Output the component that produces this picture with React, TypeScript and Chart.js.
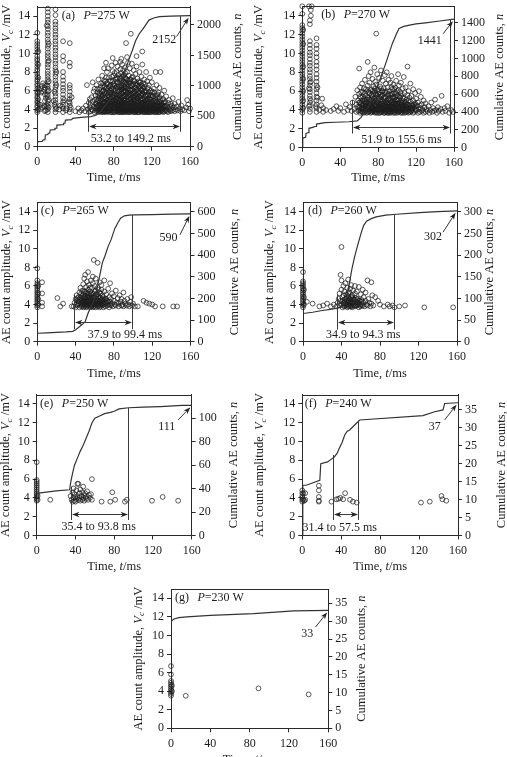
import { useEffect, useRef } from 'react';
import { Chart, registerables } from 'chart.js';

Chart.register(...registerables);

const SERIF = '"Liberation Serif", "Times New Roman", Times, serif';
const INK = '#1c1c1c';
const AXIS = '#2a2a2a';
const CURVE = '#333333';
const DOT = 'rgba(28,28,28,0.8)';

const TIME_TICKS = [0, 40, 80, 120, 160];
const AMP_TICKS = [0, 2, 4, 6, 8, 10, 12, 14];
const TIME_MAX = 160;
const AMP_MAX = 15;

// ---------- (a) P = 275 W ----------
const A_POWER = 275;
const A_TOTAL = 2152;
const A_RANGE = [53.2, 149.2];
const A_COUNT_TICKS = [0, 500, 1000, 1500, 2000];
const A_SCATTER = [
  0,3.7, 0,3.9, 0,4.2, 0,4.4, 0,4.7, 0,4.9, 0,5.2, 0,5.4, 0,5.7, 0,5.9, 0,6.2, 0,6.5, 0,6.7, 0,7.0, 0,7.2, 0,7.5, 0,7.8, 0,8.1, 0,8.3, 0,8.6,
  0,8.9, 0,9.2, 0,9.4, 0,9.7, 0,10.1, 0,10.4, 0,10.7, 0,11.0, 0,11.3, 0,12.2, 1,4.0, 1,4.6, 1,5.1, 1,5.8, 1,6.3, 1,7.4, 1,8.8, 1,10.2,
  3,4.0, 3,4.5, 4,5.8, 4,6.2, 5,6.5, 5,4.2, 6,5.9, 6,6.8, 7,4.4, 7,6.1, 8,3.8, 8,4.3, 8,4.9, 8,5.6, 8,6.3, 8,6.6, 9,5.2, 9,3.9,
  11,3.7, 11,4.0, 11,4.3, 11,4.6, 11,4.9, 11,5.3, 11,5.6, 11,5.9, 11,6.2, 11,6.5, 11,6.9, 11,7.2, 11,7.5, 11,7.8, 11,8.1, 11,8.5, 11,8.8,
  11,9.1, 11,9.5, 11,9.8, 11,10.1, 11,10.5, 11,10.8, 11,11.2, 11,11.5, 11,11.9, 11,12.2, 11,12.6, 11,12.9, 11,13.3, 11,13.6, 11,14.0,
  11,14.4, 11,14.8, 12,4.2, 12,5.0, 12,6.0, 12,7.0, 12,9.2, 12,11.0, 10,4.4, 10,5.5, 10,6.6, 10,13.0,
  19,3.7, 19,4.0, 19,4.3, 19,4.7, 19,5.0, 19,5.4, 19,5.7, 19,6.1, 19,6.4, 19,6.8, 19,7.1, 19,7.5, 19,7.8, 19,8.2, 19,8.5, 19,8.9, 19,9.2,
  19,9.6, 19,9.9, 19,10.3, 19,10.6, 19,11.0, 19,11.3, 19,11.7, 19,12.0, 19,12.4, 19,12.7, 19,13.1, 19,13.4, 19,14.1, 19,14.7,
  18,4.5, 18,5.9, 20,4.1, 20,6.6, 20,8.0, 17,4.9,
  27,3.7, 27,4.1, 27,4.5, 27,4.8, 27,5.2, 27,5.6, 27,6.0, 27,6.3, 27,6.7, 27,7.1, 27,7.5, 27,8.0, 27,9.2, 27,9.7, 27,11.3, 26,4.3, 28,5.0, 24,4.4, 23,4.0,
  34,3.7, 34,4.0, 34,4.4, 34,4.7, 34,5.1, 34,5.5, 34,5.9, 34,6.3, 34,6.6, 34,8.6, 34,9.0, 34,11.1, 35,4.2, 33,4.8, 31,4.1, 30,3.9, 36,5.3, 40,3.8, 43,4.1, 44,3.7,
  46,3.9, 48,4.1, 50,3.8, 51,4.4, 52,6.6, 53,4.0, 54,4.7, 54,3.7, 55,5.1, 55,4.2,
  56,3.8, 56,4.5, 57,5.3, 57,4.0, 58,3.9, 58,4.8, 59,5.9, 59,4.3, 60,3.7, 60,5.0, 60,6.2, 58,6.9,
  61,4.1, 61,4.6, 61,5.5, 62,3.8, 62,4.3, 62,6.6, 63,4.9, 63,3.9, 63,5.8, 64,4.4, 64,3.7, 64,7.2, 65,5.2, 65,4.0, 65,4.7, 65,6.1,
  66,3.8, 66,4.5, 66,5.6, 67,4.2, 67,5.0, 67,6.8, 67,3.7, 68,4.6, 68,5.4, 68,7.6, 68,3.9, 69,4.3, 69,6.0, 69,5.1, 70,3.8, 70,4.8, 70,6.4, 70,8.4, 70,4.1, 69,3.7,
  71,4.4, 71,5.3, 71,7.0, 71,3.9, 72,4.0, 72,5.7, 72,4.7, 72,6.2, 73,3.8, 73,4.5, 73,5.0, 73,8.0, 73,6.8, 74,4.2, 74,5.5, 74,3.7, 74,6.0, 75,4.9, 75,4.1, 75,7.4,
  75,5.3, 75,3.8, 74,8.4, 72,9.0,
  76,4.3, 76,5.8, 76,3.9, 76,6.5, 77,4.6, 77,5.1, 77,3.7, 77,7.1, 78,4.0, 78,4.8, 78,6.2, 78,5.4, 79,3.8, 79,4.4, 79,5.7, 79,8.1, 79,9.5, 80,4.2, 80,5.0, 80,6.7,
  80,3.9, 80,7.6, 78,8.7, 77,6.0,
  81,4.5, 81,5.3, 81,3.7, 81,6.0, 82,4.1, 82,4.8, 82,7.2, 82,5.6, 82,9.0, 83,3.9, 83,4.4, 83,6.4, 83,5.1, 83,8.0, 84,4.0, 84,4.7, 84,5.9, 84,3.7, 84,6.9, 85,4.3,
  85,5.2, 85,7.7, 85,3.8, 85,6.2, 85,4.9, 84,8.6, 83,7.4,
  86,4.1, 86,4.6, 86,5.5, 86,6.8, 86,3.9, 87,4.4, 87,5.0, 87,7.3, 87,3.7, 87,6.0, 87,8.3, 88,4.2, 88,4.8, 88,5.7, 88,6.5, 88,3.8, 88,7.9, 89,4.0, 89,4.5, 89,5.3,
  89,6.2, 89,8.8, 89,3.7, 90,4.3, 90,5.0, 90,5.9, 90,7.0, 90,3.9, 90,8.2, 90,6.6, 89,7.5, 88,9.4, 87,9.1,
  91,4.1, 91,4.7, 91,5.4, 91,6.4, 91,3.8, 91,7.7, 92,4.4, 92,5.1, 92,6.0, 92,3.7, 92,8.5, 92,6.9, 93,4.0, 93,4.6, 93,5.6, 93,7.3, 93,3.9, 93,11.1, 93,6.3, 94,4.2,
  94,4.9, 94,5.3, 94,6.7, 94,3.7, 94,8.0, 95,4.5, 95,5.8, 95,3.8, 95,7.1, 95,4.1, 95,9.0, 94,9.6, 92,7.9,
  96,4.3, 96,5.0, 96,6.2, 96,3.9, 96,7.6, 97,4.0, 97,4.7, 97,5.5, 97,6.8, 97,3.7, 97,8.4, 98,4.4, 98,5.2, 98,6.0, 98,3.8, 98,7.2, 98,12.1, 99,4.1, 99,4.8, 99,5.7,
  99,6.5, 99,3.9, 99,8.9, 100,4.2, 100,5.0, 100,6.1, 100,3.7, 100,7.5, 100,5.4,
  101,4.0, 101,4.6, 101,5.3, 101,6.7, 101,3.8, 101,8.2, 102,4.3, 102,5.0, 102,5.9, 102,7.0, 102,3.7, 103,4.1, 103,4.8, 103,5.5, 103,6.3, 103,3.9, 103,7.8, 104,4.4,
  104,5.2, 104,6.6, 104,3.8, 104,9.7, 104,8.6, 105,4.0, 105,4.7, 105,5.6, 105,7.3, 105,3.7, 105,6.1,
  106,4.2, 106,4.9, 106,5.8, 106,3.9, 106,7.0, 107,4.5, 107,5.3, 107,6.4, 107,3.7, 107,8.0, 108,4.1, 108,4.7, 108,5.5, 108,6.9, 108,3.8, 109,4.3, 109,5.0, 109,6.1,
  109,3.9, 109,7.5, 110,4.0, 110,4.6, 110,5.7, 110,3.7, 110,10.2, 110,6.5, 110,8.8,
  111,4.4, 111,5.1, 111,6.2, 111,3.8, 112,4.2, 112,4.8, 112,5.9, 112,3.9, 112,7.2, 113,4.0, 113,4.5, 113,5.4, 113,6.7, 113,3.7, 114,4.3, 114,5.0, 114,6.0, 114,3.8,
  114,8.0, 115,4.1, 115,4.7, 115,5.6, 115,3.9, 115,7.0,
  116,4.2, 116,4.9, 116,6.3, 116,3.7, 117,4.4, 117,5.2, 117,3.8, 117,6.6, 118,4.0, 118,4.6, 118,5.5, 118,3.9, 118,7.4, 119,4.3, 119,5.0, 119,6.0, 119,3.7, 120,4.1,
  120,4.8, 120,5.8, 120,3.8, 120,6.9,
  121,4.2, 121,4.7, 121,5.4, 121,3.9, 122,4.0, 122,4.5, 122,6.2, 122,3.7, 123,4.4, 123,5.1, 123,3.8, 123,5.8, 124,4.1, 124,4.9, 124,8.0, 124,3.9, 125,4.3, 125,5.5,
  125,3.7, 125,6.6,
  126,4.0, 126,4.6, 126,5.2, 126,3.8, 127,4.3, 127,5.8, 127,3.9, 128,4.1, 128,4.8, 128,3.7, 128,6.3, 129,4.4, 129,5.0, 129,8.0, 129,3.8, 130,4.2, 130,4.7, 130,5.6,
  130,3.9,
  131,4.0, 131,4.5, 132,5.1, 132,3.7, 133,4.3, 133,6.0, 134,4.1, 134,3.9, 134,4.8, 135,4.4, 135,5.4, 136,3.8, 136,4.2, 137,4.7, 137,3.7, 138,4.0, 138,5.0, 139,4.3,
  139,3.9, 140,4.1, 140,4.6, 140,3.8,
  141,4.4, 142,3.9, 142,5.2, 143,4.2, 144,3.8, 144,4.6, 145,4.0, 146,4.3, 147,3.9, 148,4.8, 149,4.1, 150,3.8, 151,4.4, 152,4.0, 154,3.9, 156,4.2, 158,4.5, 159,3.8,
  160,4.1, 157,5.0,
  // dense core of the burst
  62,4.6, 62,5.1, 63,4.2, 63,4.4, 63,6.2, 64,4.0, 64,5.0, 64,5.5, 65,3.8, 65,4.4, 65,5.7, 66,4.1, 66,4.9, 66,6.3, 67,3.9, 67,4.4, 67,5.4, 68,4.1, 68,4.3, 68,5.9,
  68,6.5, 69,3.8, 69,4.7, 69,5.6, 69,6.8, 70,4.3, 70,5.2, 70,5.7, 70,7.1,
  71,3.7, 71,4.1, 71,4.8, 71,5.9, 71,6.5, 72,3.8, 72,4.4, 72,5.1, 72,7.4, 73,4.1, 73,4.7, 73,5.8, 73,6.3, 74,3.9, 74,4.6, 74,5.0, 74,6.7, 75,4.4, 75,5.8, 75,6.4,
  76,4.1, 76,4.7, 76,5.2, 76,7.0, 77,3.9, 77,4.3, 77,5.6, 77,6.6, 78,3.7, 78,4.4, 78,5.0, 78,5.8, 78,7.5, 79,4.2, 79,4.8, 79,5.3, 79,6.4, 79,7.0, 80,3.7, 80,4.6,
  80,5.5, 80,6.1,
  81,4.2, 81,4.9, 81,5.7, 81,6.6, 81,7.9, 82,3.8, 82,4.5, 82,5.2, 82,6.3, 83,4.1, 83,4.7, 83,5.5, 83,6.9, 84,3.9, 84,4.4, 84,5.3, 84,6.4, 84,7.3, 85,4.0, 85,4.6,
  85,5.6, 85,6.6, 86,3.7, 86,4.3, 86,5.0, 86,5.9, 86,7.4, 87,4.0, 87,4.7, 87,5.4, 87,6.4, 88,3.9, 88,4.5, 88,5.2, 88,6.1, 88,7.1, 89,4.2, 89,4.8, 89,5.7, 89,6.8,
  90,3.7, 90,4.6, 90,5.4, 90,6.2, 90,7.6,
  91,3.9, 91,4.4, 91,5.0, 91,5.9, 91,6.9, 92,4.0, 92,4.7, 92,5.5, 92,6.4, 92,7.4, 93,4.3, 93,5.0, 93,5.9, 93,6.8, 94,3.8, 94,4.5, 94,5.7, 94,6.2, 94,7.2, 95,4.0,
  95,4.8, 95,5.4, 95,6.5, 96,3.7, 96,4.6, 96,5.6, 96,6.9, 97,4.2, 97,5.1, 97,6.1, 97,7.2, 98,3.9, 98,4.7, 98,5.6, 98,6.6, 99,4.4, 99,5.2, 99,6.1, 99,7.4, 100,3.9,
  100,4.6, 100,5.7, 100,6.7,
  101,4.3, 101,5.0, 101,5.8, 101,7.1, 102,3.9, 102,4.6, 102,5.4, 102,6.3, 103,3.7, 103,4.4, 103,5.1, 103,6.8, 104,4.1, 104,4.7, 104,5.6, 104,6.1, 105,3.9, 105,4.4,
  105,5.2, 105,6.7, 106,3.7, 106,4.5, 106,5.4, 106,6.4, 107,4.1, 107,4.8, 107,5.8, 107,6.9, 108,3.9, 108,4.4, 108,5.1, 108,6.2, 109,4.1, 109,4.7, 109,5.5, 109,6.6,
  110,3.9, 110,4.3, 110,5.1, 110,6.0,
  111,4.0, 111,4.7, 111,5.6, 111,6.8, 112,3.7, 112,4.5, 112,5.3, 112,6.4, 113,4.2, 113,4.9, 113,5.9, 114,3.9, 114,4.6, 114,5.5, 115,3.7, 115,4.4, 115,5.1, 115,6.2,
  116,4.0, 116,4.6, 116,5.5, 117,4.1, 117,4.8, 117,5.8, 118,3.7, 118,4.3, 118,5.1, 119,4.1, 119,4.6, 119,5.5, 120,4.0, 120,4.4, 120,5.3, 121,3.8, 121,4.4, 121,5.9,
  122,4.2, 122,4.9, 123,4.0, 123,4.7, 124,3.7, 124,4.4, 124,5.3, 125,4.0, 125,4.8,
  126,4.3, 126,5.6, 127,3.7, 127,4.6, 128,4.4, 128,5.3, 129,4.0, 129,4.7, 130,4.4, 131,3.8, 131,5.0, 132,4.2, 133,3.8, 133,4.7, 134,4.4, 135,3.9,
];
const A_CUMUL = [
  0,82, 5,85, 6,110, 8,115, 8.5,192, 11,200, 11.5,220, 13,225, 13.5,274, 18,280, 18.5,302, 20,306, 20.5,356, 27,362, 27.5,384, 29,390, 29.5,438,
  36,445, 37,466, 46,483, 56,495, 62,520, 66,580, 70,650, 75,740, 79,830, 84,960, 89,1100, 93,1300, 96,1430, 100,1600, 103,1740, 107,1860,
  110,1920, 114,2010, 117,2080, 122,2115, 128,2136, 140,2145, 150,2150, 160,2152,
];

// ---------- (b) P = 270 W ----------
const B_POWER = 270;
const B_TOTAL = 1441;
const B_RANGE = [51.9, 155.6];
const B_COUNT_TICKS = [0, 200, 400, 600, 800, 1000, 1200, 1400];
const B_SCATTER = [
  0,3.7, 0,4.0, 0,4.3, 0,4.6, 0,4.9, 0,5.2, 0,5.5, 0,5.8, 0,6.1, 0,6.4, 0,6.7, 0,7.0, 0,7.3, 0,7.6, 0,7.9, 0,8.2, 0,8.5, 0,8.8, 0,9.1, 0,9.4,
  0,9.7, 0,10.0, 0,10.3, 0,10.6, 0,10.9, 0,11.2, 0,11.5, 0,11.8, 0,12.1, 0,12.4, 0,12.7, 0,13.0, 0,14.2, 0,15.0, 1,4.2, 1,5.0, 1,6.0, 1,7.3, 1,8.6,
  1,11.0, 1,12.5,
  8,3.8, 8,4.1, 8,4.5, 8,4.8, 8,5.2, 8,5.5, 8,5.9, 8,6.2, 8,6.6, 8,6.9, 8,7.3, 8,7.6, 8,8.0, 8,8.3, 8,8.7, 8,9.0, 8,9.4, 8,9.8, 8,10.1, 8,10.5, 8,10.9,
  8,11.3, 8,13.1, 8,13.5, 7,4.4, 7,6.3, 9,5.0, 9,14.0, 9,14.6, 7,15.0, 10,15.0, 9,7.0,
  15,3.8, 15,4.2, 15,4.6, 15,5.0, 15,5.4, 15,5.8, 15,6.2, 15,6.6, 15,7.0, 15,7.4, 15,7.8, 15,8.3, 15,8.7, 15,9.1, 15,9.6, 15,10.0, 15,10.5, 15,10.9,
  15,11.6, 14,4.4, 16,5.3, 16,6.4,
  18,4.0, 20,4.5, 21,5.2, 22,4.2, 22,3.8, 25,4.0, 30,3.9, 33,4.1, 36,4.4, 38,3.9, 40,4.2, 44,3.8, 46,4.6, 48,4.0, 50,4.3, 52,3.9, 53,4.8,
  55,4.1, 56,5.4, 57,3.8, 57,4.6, 58,6.1, 58,4.3, 59,3.9, 59,5.0, 60,4.4, 60,5.7, 60,8.4, 61,3.7, 61,4.8, 61,6.4, 62,4.1, 62,5.3, 62,3.9, 63,4.5, 63,6.8, 63,5.0,
  64,3.8, 64,4.2, 64,5.9, 65,4.7, 65,3.7, 65,6.3, 65,5.2, 66,4.0, 66,4.4, 66,7.2, 67,3.9, 67,5.5, 67,4.8, 68,4.2, 68,6.0, 68,3.7, 68,5.1, 69,4.5, 69,9.1, 69,3.8,
  69,6.6, 70,4.1, 70,5.3, 70,4.7, 70,7.6, 71,3.9, 71,5.8, 71,4.3, 71,6.9, 72,4.6, 72,3.7, 72,5.0, 72,8.0, 73,4.0, 73,5.6, 73,4.4, 73,6.2, 74,3.8, 74,4.9, 74,7.3,
  74,5.4, 75,4.2, 75,6.5, 75,3.9, 75,4.7, 76,5.2, 76,4.0, 76,8.5, 76,6.0, 77,3.7, 77,4.5, 77,5.7, 77,7.0, 78,12.1, 78,4.3, 78,5.0, 78,6.7, 78,3.8, 79,4.1, 79,5.5,
  79,7.8, 79,4.8, 80,3.9, 80,4.4, 80,6.2, 80,5.2, 81,4.6, 81,3.7, 81,5.9, 81,7.4, 82,4.2, 82,5.0, 82,4.0, 82,6.5, 83,3.8, 83,4.7, 83,5.4, 83,8.2, 84,4.3, 84,6.0,
  84,3.9, 84,5.1, 85,4.5, 85,7.1, 85,4.0, 85,5.6, 86,3.7, 86,4.8, 86,6.3, 86,4.2, 87,5.3, 87,3.9, 87,4.6, 87,7.7, 88,4.1, 88,5.8, 88,3.8, 88,6.8, 89,4.4, 89,5.0,
  89,4.0, 89,8.0, 90,3.7, 90,4.7, 90,5.5, 90,6.4, 91,4.3, 91,3.9, 91,5.2, 91,7.2, 92,4.6, 92,4.1, 92,6.0, 92,3.8, 93,5.0, 93,4.4, 93,6.9, 93,3.7, 94,4.2, 94,5.7,
  94,4.8, 94,7.6, 95,3.9, 95,4.5, 95,6.2, 95,5.3, 96,4.0, 96,3.7, 96,5.0, 96,6.7, 97,4.3, 97,5.8, 97,3.8, 97,4.7, 98,4.1, 98,6.4, 98,5.4, 98,3.9, 99,4.6, 99,7.1,
  99,4.0, 99,5.1, 100,3.7, 100,4.4, 100,6.0, 100,5.5, 101,4.2, 101,3.8, 101,5.0, 101,7.8, 102,4.7, 102,4.0, 102,6.6, 103,3.9, 103,5.3, 103,4.3, 103,5.9, 104,4.5,
  104,3.7, 104,6.9, 105,4.1, 105,5.0, 105,3.8, 105,5.7, 106,4.4, 106,6.3, 106,4.0, 107,3.9, 107,5.2, 107,4.6, 107,7.5, 108,4.2, 108,3.7, 108,5.8, 109,4.8, 109,4.0,
  109,6.4, 110,3.8, 110,5.1, 110,4.3, 111,4.6, 111,3.9, 111,8.6, 111,5.6, 112,4.1, 112,6.0, 112,3.7, 113,4.4, 113,5.3, 113,4.0, 114,3.8, 114,4.9, 114,6.8, 115,4.2,
  115,5.5, 115,3.9, 116,4.5, 116,4.0, 117,5.0, 117,3.7, 117,6.2, 118,4.3, 118,3.8, 119,4.7, 119,5.8, 120,4.0, 120,3.9, 120,5.2, 121,4.4, 122,3.7, 122,4.8, 123,4.1,
  123,6.0, 124,3.8, 124,4.5, 125,4.2, 125,5.4, 126,3.9, 126,4.6, 127,4.0, 128,3.7, 128,5.0, 129,4.3, 130,3.8, 130,4.7, 131,4.1, 132,3.9, 133,4.4, 134,3.7, 135,4.0,
  136,4.8, 137,3.8, 138,4.2, 139,3.9, 140,5.1, 141,4.0, 142,3.7, 143,4.3, 144,3.9, 146,4.1, 147,5.5, 148,3.8, 150,4.2, 151,3.9, 153,4.4, 155,3.7, 157,4.0, 159,3.8,
  // dense core of the burst
  60,4.0, 60,4.8, 61,4.3, 61,5.4, 62,4.7, 62,5.9, 63,3.8, 63,4.2, 64,4.5, 64,5.4, 65,4.1, 65,4.9, 66,3.8, 66,5.1, 66,5.8, 67,4.3, 67,4.6, 67,6.2, 68,4.5, 68,4.8,
  69,4.1, 69,5.3, 70,3.8, 70,4.4, 70,5.9, 71,4.6, 71,5.1, 72,4.1, 72,4.3, 72,6.1, 73,3.8, 73,4.7, 73,5.2, 74,4.3, 74,4.6, 74,6.0, 75,4.0, 75,5.0, 75,5.7, 76,3.8,
  76,4.4, 76,4.8, 77,4.1, 77,5.3, 77,6.3, 78,4.0, 78,4.6, 78,5.6, 79,3.7, 79,4.4, 79,6.1, 80,4.1, 80,4.7, 80,5.7, 81,4.0, 81,4.4, 81,5.3, 82,3.7, 82,4.6, 82,5.6,
  83,4.1, 83,4.4, 83,6.3, 84,3.8, 84,4.7, 84,5.5, 85,4.2, 85,4.9, 85,6.0, 86,4.0, 86,4.5, 86,5.3, 87,3.7, 87,4.3, 87,5.9, 88,4.4, 88,4.8, 88,5.3, 89,3.8, 89,4.7,
  89,6.0, 90,4.1, 90,4.3, 90,5.1, 91,3.7, 91,4.7, 91,5.7, 92,3.9, 92,4.4, 92,5.3, 93,4.1, 93,4.7, 93,5.6, 94,3.8, 94,4.4, 94,6.4, 95,4.1, 95,4.8, 95,5.7, 96,4.3,
  96,4.6, 96,5.4, 97,4.0, 97,5.2, 97,6.2, 98,3.7, 98,4.6, 98,4.9, 99,4.2, 99,4.4, 99,5.8, 100,3.9, 100,4.7, 100,5.1, 101,4.5, 101,4.7, 101,6.1, 102,3.8, 102,4.3,
  102,5.4, 103,4.1, 103,4.7, 104,4.0, 104,4.8, 104,5.5, 105,4.3, 105,4.6, 106,3.7, 106,4.8, 106,5.3, 107,4.1, 107,4.3, 108,4.5, 108,4.9, 109,3.8, 109,4.4, 110,4.1,
  110,4.6, 111,4.3, 112,4.5, 112,5.0, 113,3.8, 114,4.2, 115,4.6, 116,4.2, 117,4.4, 118,4.6, 119,4.1, 120,4.5,
];
const B_CUMUL = [
  0,11, 0.5,108, 3.5,116, 4,160, 6.5,170, 7,217, 12,230, 12.5,235, 14.5,240, 15,265, 24,280, 35,285, 49,291, 58,300, 62,340, 66,410, 70,459, 74,560,
  77.5,646, 83,795, 88,945, 95,1169, 99,1270, 102,1337, 107,1360, 113,1374, 120,1388, 130,1400, 145,1420, 160,1441,
];

// ---------- (c) P = 265 W ----------
const C_POWER = 265;
const C_TOTAL = 590;
const C_RANGE = [37.9, 99.4];
const C_COUNT_TICKS = [0, 100, 200, 300, 400, 500, 600];
const C_SCATTER = [
  0,3.7, 0,3.9, 0,4.1, 0,4.3, 0,4.5, 0,4.7, 0,4.9, 0,5.1, 0,5.3, 0,5.5, 0,5.7, 0,5.9, 0,6.1, 0,6.3, 0,6.6, 0,7.9, 1,4.0, 1,4.6, 1,5.2, 1,6.0,
  5,6.4, 5,5.2, 5,4.2, 5,3.8, 21,4.7, 24,3.8, 27,4.1, 36,3.8,
  38,3.8, 39,4.2, 40,4.6, 40,3.7, 41,4.0, 41,5.0, 42,4.4, 42,3.9, 43,4.8, 43,4.1, 44,3.7, 44,5.3, 45,4.3, 45,4.0, 45,5.8, 46,3.8, 46,4.6, 46,4.9, 47,4.2, 47,5.5,
  47,3.9, 48,4.4, 48,6.2, 48,3.7, 48,5.1, 49,4.0, 49,4.7, 49,6.8, 49,3.8, 50,4.3, 50,5.4, 50,4.9, 50,3.9, 50,7.2, 51,4.1, 51,5.9, 51,3.7, 51,4.6, 52,4.4, 52,5.2,
  52,6.5, 52,3.8, 53,4.0, 53,4.8, 53,7.5, 53,5.6, 54,3.9, 54,4.3, 54,6.1, 54,5.0, 55,4.6, 55,3.7, 55,5.4, 55,4.1, 56,4.4, 56,6.6, 56,3.8, 56,5.1, 57,4.0, 57,4.8,
  57,5.8, 57,3.9, 58,4.2, 58,6.3, 58,3.7, 58,7.0, 59,4.5, 59,5.2, 59,8.8, 59,3.8, 60,4.1, 60,4.7, 60,6.0, 60,3.9, 61,4.3, 61,5.5, 61,3.7, 61,6.8, 62,4.6, 62,4.0,
  62,5.1, 63,3.8, 63,8.5, 63,4.4, 63,5.8, 64,4.1, 64,4.9, 64,3.9, 65,4.3, 65,6.4, 65,3.7, 65,5.3, 66,4.0, 66,4.7, 66,3.8, 67,4.5, 67,5.6, 67,6.1, 68,4.2, 68,3.9,
  68,5.0, 69,4.4, 69,3.7, 69,4.8, 70,4.0, 70,6.6, 70,5.4, 71,3.8, 71,4.6, 72,4.2, 72,5.1, 73,3.9, 73,4.4, 74,4.0, 74,5.7, 75,4.8, 75,3.7, 76,4.3, 76,6.3, 77,3.9,
  77,4.6, 78,4.1, 78,5.2, 79,3.8, 80,4.4, 80,4.9, 81,4.0, 82,5.5, 82,3.9, 83,4.2, 84,4.7, 85,3.8, 85,4.1, 86,5.0, 87,4.3, 88,3.9, 88,4.6, 89,4.0, 90,5.3, 90,3.8,
  91,4.4, 92,4.1, 93,3.9, 94,4.6, 95,4.0, 96,3.8, 97,4.3, 98,4.8, 99,3.9, 100,4.1, 102,3.8,
  105,3.8, 111,4.4, 114,4.2, 117,4.1, 120,4.0, 123,3.8, 131,3.8, 142,3.8, 146,3.8,
  42,4.7, 43,4.3, 44,4.5, 45,4.7, 46,4.2, 46,5.2, 47,4.5, 48,4.0, 48,4.8, 49,4.3, 49,5.4, 50,4.1, 50,4.6, 51,4.3, 51,5.3, 52,4.0, 52,4.8, 53,4.3, 53,5.2, 54,4.6,
  54,4.8, 55,4.3, 55,5.8, 56,4.0, 56,4.7, 57,4.4, 57,5.2, 58,4.0, 58,4.7, 59,4.2, 59,4.9, 60,4.4, 60,5.4, 61,4.0, 61,4.9, 62,4.3, 62,4.8, 63,4.1, 63,5.1, 64,4.4,
  64,5.6, 65,4.1, 66,4.4, 66,5.2, 67,4.0, 68,4.6, 69,4.1, 70,4.5, 71,4.2, 72,4.6, 74,4.3, 76,4.0,
];
const C_CUMUL = [
  0,39, 10,41, 20,43, 30,45, 37,48, 40,55, 44,69, 47,80, 50,92, 53,131, 56,160, 59,190, 62,239, 65,300, 68,365, 71,400, 74,440, 77,470, 81,523, 84,548,
  87,570, 91,581, 96,584, 102,585, 120,587, 140,589, 160,590,
];

// ---------- (d) P = 260 W ----------
const D_POWER = 260;
const D_TOTAL = 302;
const D_RANGE = [34.9, 94.3];
const D_COUNT_TICKS = [0, 50, 100, 150, 200, 250, 300];
const D_SCATTER = [
  0,3.7, 0,3.9, 0,4.1, 0,4.3, 0,4.5, 0,4.7, 0,4.9, 0,5.1, 0,5.3, 0,5.5, 0,5.7, 0,5.9, 0,6.1, 0,6.3, 0,6.5, 0,7.5, 1,4.0, 1,4.8, 1,5.6,
  4,4.3, 10,4.1, 17,3.8, 21,3.9, 25,4.1, 29,3.8, 32,4.0,
  35,3.8, 36,4.2, 37,4.6, 38,3.9, 38,5.2, 39,4.4, 39,7.2, 40,10.2, 40,6.6, 40,4.0, 40,5.6, 41,3.7, 41,4.8, 42,4.2, 42,6.0, 42,5.0, 43,3.8, 43,4.5, 43,5.4, 44,4.1,
  44,6.3, 44,3.9, 45,4.7, 45,5.1, 45,4.3, 46,3.7, 46,5.8, 46,4.0, 47,4.4, 47,4.9, 47,6.7, 48,3.9, 48,4.2, 48,5.3, 49,4.6, 49,3.8, 49,5.7, 50,4.0, 50,4.4, 50,6.1,
  51,3.7, 51,4.8, 51,5.0, 52,4.2, 52,3.9, 52,5.5, 53,4.5, 53,4.1, 54,3.8, 54,5.2, 54,6.0, 55,4.3, 55,4.7, 56,3.9, 56,5.4, 57,4.0, 57,4.6, 58,3.7, 58,5.9, 59,4.4,
  59,4.1, 60,3.8, 60,5.1, 61,4.5, 61,4.0, 62,5.6, 62,3.9, 63,4.2, 63,4.8, 64,3.8, 65,4.4, 65,5.3, 66,4.0, 67,6.6, 67,3.9, 68,4.6, 69,4.2, 70,3.8, 71,6.4, 71,4.1,
  72,5.0, 73,3.9,
  75,4.8, 78,4.4, 80,4.0, 84,3.8, 88,4.0, 90,3.8, 93,3.9, 95,3.7, 100,3.8, 106,3.9, 126,3.7, 156,3.7,
  41,4.4, 42,3.9, 43,4.2, 44,4.6, 45,4.0, 46,4.4, 47,3.8, 47,5.2, 48,4.6, 49,4.2, 50,3.8, 50,4.8, 51,4.2, 52,4.6, 53,3.9, 54,4.5, 55,3.9, 56,4.6, 57,4.2, 58,4.4,
  59,3.9, 61,4.3,
];
const D_CUMUL = [
  0,65, 10,68, 20,72, 30,75, 34,77, 38,79, 41,84, 43,89, 45,103, 47,119, 49,145, 51,170, 53,190, 55,208, 58,232, 61,255, 63,268, 66,278, 71,284, 76,288,
  86,292, 97,294, 121,298, 140,300, 160,302,
];

// ---------- (e) P = 250 W ----------
const E_POWER = 250;
const E_TOTAL = 111;
const E_RANGE = [35.4, 93.8];
const E_COUNT_TICKS = [0, 20, 40, 60, 80, 100];
const E_SCATTER = [
  0,3.7, 0,3.9, 0,4.1, 0,4.3, 0,4.5, 0,4.7, 0,4.9, 0,5.1, 0,5.3, 0,5.5, 0,5.7, 0,5.9, 0,7.8, 1,4.2, 1,3.8,
  14,3.8,
  35,4.2, 36,3.8, 37,4.6, 37,3.6, 38,4.0, 38,5.0, 39,3.7, 39,4.4, 40,4.1, 40,3.6, 41,4.8, 41,3.9, 42,5.5, 42,4.2, 43,5.5, 43,3.8, 44,4.5, 44,4.0, 45,3.7, 45,4.9,
  46,4.2, 47,3.8, 47,4.6, 48,4.0, 48,5.2, 49,3.7, 49,4.3, 50,4.5, 51,3.9, 51,4.1, 52,4.7, 53,3.8, 54,4.3, 55,4.0, 56,4.4, 57,6.0, 57,3.8,
  67,3.6, 76,3.6, 78,4.6, 81,3.8, 91,3.6, 93,3.8, 119,3.7, 130,4.1, 146,3.7,
];
const E_CUMUL = [
  0,36, 20,38, 34,39, 35,45, 37,53, 39,60, 42,66, 45,72, 48,77, 51,83, 54,89, 57,96, 60,100, 65,102, 70,104, 76,105, 80,106, 85,108, 95,109, 110,109.5,
  128,110, 150,111, 160,111,
];

// ---------- (f) P = 240 W ----------
const F_POWER = 240;
const F_TOTAL = 37;
const F_RANGE = [31.4, 57.5];
const F_COUNT_TICKS = [0, 5, 10, 15, 20, 25, 30, 35];
const F_SCATTER = [
  0,3.6, 0,3.8, 0,4.0, 0,4.2, 0,4.5, 0,4.8, 1,3.8, 1,4.5, 2,3.7, 3,4.5, 3,3.8,
  17,3.6, 17,3.7, 17,4.1, 17,4.8, 17,5.3,
  30,3.6, 35,3.85, 37,3.9, 39,4.0, 42,3.85, 44,4.5, 49,3.8, 52,3.6, 56,3.5,
  122,3.5, 131,3.6, 143,4.2, 144,3.85, 148,3.7,
];
const F_CUMUL = [
  0,0, 0.5,14, 4,14, 18,15.4, 19,20, 26,20.5, 33,21.9, 36,23, 38,24.3, 41,26, 43.6,28, 46,29, 48.7,29.4, 53.8,30.8, 59,32.2, 124,33.4, 136,34.5,
  144.6,35, 146.3,36.8, 160,37,
];

// ---------- (g) P = 230 W ----------
const G_POWER = 230;
const G_TOTAL = 33;
const G_COUNT_TICKS = [0, 5, 10, 15, 20, 25, 30, 35];
const G_SCATTER = [
  0,3.5, 0,3.7, 0,3.9, 0,4.1, 0,4.3, 0,4.5, 0,4.7, 0,4.9, 0,5.1, 0,5.8, 0,6.7, 1,4.0, 1,4.6,
  15,3.5, 89,4.3, 140,3.65,
];
const G_CUMUL = [0,30, 3,30.6, 8,31, 16,31.2, 40,31.6, 84,32.1, 125,32.9, 160,33];

// ---------- panel layout ----------
type Box = { l: number; r: number; t: number; b: number };
type Marks = {
  tagT: number;
  countAt: [number, number];
  arrowFrom: [number, number];
  arrowToT: number;
  startTop?: number;
  lineBottom?: number;
  arrowV?: number;
  textAt?: [number, number];
};
type PanelDef = {
  letter: string;
  power: number;
  total: number;
  range?: number[];
  scatter: number[];
  cumul: number[];
  countTicks: number[];
  countMax: number;
  area: Box;
  titleX: [number, number];
  titleY: number;
  marks: Marks;
};

const PANELS: PanelDef[] = [
  {
    letter: 'a', power: A_POWER, total: A_TOTAL, range: A_RANGE, scatter: A_SCATTER, cumul: A_CUMUL,
    countTicks: A_COUNT_TICKS, countMax: 2300,
    area: { l: 37.3, r: 190, t: 6.7, b: 146.7 }, titleX: [7, 238], titleY: 177.5,
    marks: { tagT: 25.5, countAt: [133, 11.5], arrowFrom: [146, 11.8], arrowToT: 158.5, startTop: 5.1, lineBottom: 1.6, arrowV: 2.2, textAt: [98, 0.8] },
  },
  {
    letter: 'b', power: B_POWER, total: B_TOTAL, range: B_RANGE, scatter: B_SCATTER, cumul: B_CUMUL,
    countTicks: B_COUNT_TICKS, countMax: 1585,
    area: { l: 302.3, r: 454, t: 6.3, b: 147.7 }, titleX: [259, 499.5], titleY: 177.5,
    marks: { tagT: 20, countAt: [134.5, 11.35], arrowFrom: [148.6, 12.1], arrowToT: 158.8, startTop: 5.06, lineBottom: 1.5, arrowV: 2.2, textAt: [104.5, 0.82] },
  },
  {
    letter: 'c', power: C_POWER, total: C_TOTAL, range: C_RANGE, scatter: C_SCATTER, cumul: C_CUMUL,
    countTicks: C_COUNT_TICKS, countMax: 643,
    area: { l: 37.3, r: 190.5, t: 202.4, b: 341.7 }, titleX: [7, 235], titleY: 373.3,
    marks: { tagT: 3.5, countAt: [137, 11.2], arrowFrom: [149, 11.5], arrowToT: 158.8, startTop: 5.1, lineBottom: 1.35, arrowV: 2.15, textAt: [91.5, 0.72] },
  },
  {
    letter: 'd', power: D_POWER, total: D_TOTAL, range: D_RANGE, scatter: D_SCATTER, cumul: D_CUMUL,
    countTicks: D_COUNT_TICKS, countMax: 321.4,
    area: { l: 303, r: 457, t: 202.4, b: 341.7 }, titleX: [269.7, 489.5], titleY: 373.3,
    marks: { tagT: 5.2, countAt: [135, 11.3], arrowFrom: [145.5, 11.8], arrowToT: 158.5, startTop: 5.1, lineBottom: 1.3, arrowV: 2.15, textAt: [62.6, 0.72] },
  },
  {
    letter: 'e', power: E_POWER, total: E_TOTAL, range: E_RANGE, scatter: E_SCATTER, cumul: E_CUMUL,
    countTicks: E_COUNT_TICKS, countMax: 120.3,
    area: { l: 36.7, r: 191.7, t: 394.5, b: 535.5 }, titleX: [5.5, 233.3], titleY: 567,
    marks: { tagT: 3.4, countAt: [134.2, 11.6], arrowFrom: [146, 12.3], arrowToT: 158.5, startTop: 5.2, lineBottom: 1.65, arrowV: 2.3, textAt: [64, 0.94] },
  },
  {
    letter: 'f', power: F_POWER, total: F_TOTAL, range: F_RANGE, scatter: F_SCATTER, cumul: F_CUMUL,
    countTicks: F_COUNT_TICKS, countMax: 39.3,
    area: { l: 302.3, r: 458, t: 394.5, b: 535.5 }, titleX: [259.7, 501.3], titleY: 567,
    marks: { tagT: 2.5, countAt: [136, 11.6], arrowFrom: [146.3, 12.3], arrowToT: 158.5, startTop: 8.56, lineBottom: 1.65, arrowV: 2.3, textAt: [38.5, 0.8] },
  },
  {
    letter: 'g', power: G_POWER, total: G_TOTAL, scatter: G_SCATTER, cumul: G_CUMUL,
    countTicks: G_COUNT_TICKS, countMax: 39,
    area: { l: 171, r: 328.3, t: 589, b: 728.3 }, titleX: [138.3, 361.7], titleY: 760,
    marks: { tagT: 4.1, countAt: [138.5, 10.2], arrowFrom: [147, 10.9], arrowToT: 158.8 },
  },
];

// ---------- drawing helpers ----------
type Seg = { s: string; it?: boolean; sub?: boolean };

function segFont(seg: Seg, size: number) {
  const px = seg.sub ? size * 0.72 : size;
  return `${seg.it ? 'italic ' : ''}${px}px ${SERIF}`;
}

function drawRich(ctx: CanvasRenderingContext2D, segs: Seg[], x: number, y: number, size: number, align: 'left' | 'center') {
  const widths = segs.map((seg) => {
    ctx.font = segFont(seg, size);
    return ctx.measureText(seg.s).width;
  });
  const total = widths.reduce((a, b) => a + b, 0);
  let cx = align === 'center' ? x - total / 2 : x;
  ctx.textAlign = 'left';
  ctx.textBaseline = 'middle';
  segs.forEach((seg, i) => {
    ctx.font = segFont(seg, size);
    ctx.fillText(seg.s, cx, y + (seg.sub ? size * 0.3 : 0));
    cx += widths[i];
  });
  return total;
}

function drawRotated(ctx: CanvasRenderingContext2D, segs: Seg[], x: number, y: number, size: number) {
  ctx.save();
  ctx.translate(x, y);
  ctx.rotate(-Math.PI / 2);
  drawRich(ctx, segs, 0, 0, size, 'center');
  ctx.restore();
}

function arrowHead(ctx: CanvasRenderingContext2D, fx: number, fy: number, tx: number, ty: number, len = 7.5, half = 2.8) {
  const a = Math.atan2(ty - fy, tx - fx);
  const ux = Math.cos(a), uy = Math.sin(a);
  const bx = tx - ux * len, by = ty - uy * len;
  ctx.beginPath();
  ctx.moveTo(tx, ty);
  ctx.lineTo(bx - uy * half, by + ux * half);
  ctx.lineTo(tx - ux * len * 0.7, ty - uy * len * 0.7);
  ctx.lineTo(bx + uy * half, by - ux * half);
  ctx.closePath();
  ctx.fill();
}

function line(ctx: CanvasRenderingContext2D, x1: number, y1: number, x2: number, y2: number) {
  ctx.beginPath();
  ctx.moveTo(x1, y1);
  ctx.lineTo(x2, y2);
  ctx.stroke();
}

function toPoints(flat: number[]) {
  const out: { x: number; y: number }[] = [];
  for (let i = 0; i < flat.length; i += 2) out.push({ x: flat[i], y: flat[i + 1] });
  return out;
}

// value of the drawn cumulative polyline at time t
function curveAt(flat: number[], t: number) {
  for (let i = 2; i < flat.length; i += 2) {
    if (flat[i] >= t) {
      const t0 = flat[i - 2], t1 = flat[i], v0 = flat[i - 1], v1 = flat[i + 1];
      return t1 === t0 ? v1 : v0 + ((v1 - v0) * (t - t0)) / (t1 - t0);
    }
  }
  return flat[flat.length - 1];
}

const AMP_TITLE: Seg[] = [{ s: 'AE count amplitude, ' }, { s: 'V', it: true }, { s: 'c', it: true, sub: true }, { s: ' /mV' }];
const COUNT_TITLE: Seg[] = [{ s: 'Cumulative AE counts, ' }, { s: 'n', it: true }];
const TIME_TITLE: Seg[] = [{ s: 'Time, ' }, { s: 't', it: true }, { s: '/ms' }];

function Panel({ p }: { p: PanelDef }) {
  const ref = useRef<HTMLCanvasElement>(null);
  const cl = Math.floor(p.area.l) - 48;
  const ct = Math.floor(p.area.t) - 20;
  const cr = Math.ceil(p.area.r) + 62;
  const cb = Math.ceil(p.area.b) + 44;
  const w = cr - cl;
  const h = cb - ct;

  useEffect(() => {
    const canvas = ref.current;
    if (!canvas) return;
    const leftW = p.area.l - cl;
    const rightW = cr - p.area.r;
    const bottomH = cb - p.area.b;
    const topPad = p.area.t - ct;
    const tickFont = { family: SERIF, size: 12 };
    const gridCfg = { display: true, drawOnChartArea: false, drawTicks: true, tickLength: 4, color: AXIS, lineWidth: 1 };
    const borderCfg = { display: true, color: AXIS, width: 1 };
    const label = (v: number | string) => String(v);

    const decor = {
      id: 'decor',
      afterDraw(chart: any) {
        const { ctx, chartArea: ca, scales } = chart;
        const X = (t: number) => scales.x.getPixelForValue(t);
        const Y = (v: number) => scales.y.getPixelForValue(v);
        const Yn = (n: number) => scales.y1.getPixelForValue(n);
        const m = p.marks;
        ctx.save();
        ctx.strokeStyle = AXIS;
        ctx.fillStyle = INK;
        ctx.lineWidth = 1;
        // top edge of the frame
        const top = Math.round(ca.top) + 0.5;
        line(ctx, ca.left, top, ca.right, top);

        // time window of the main burst
        if (p.range && m.startTop !== undefined && m.lineBottom !== undefined && m.arrowV !== undefined && m.textAt) {
          const [t0, t1] = p.range;
          const xs = Math.round(X(t0)) + 0.5;
          const xe = Math.round(X(t1)) + 0.5;
          ctx.strokeStyle = '#3a3a3a';
          line(ctx, xs, Y(m.startTop), xs, Y(m.lineBottom));
          line(ctx, xe, Yn(curveAt(p.cumul, t1)), xe, Y(m.lineBottom));
          const ya = Math.round(Y(m.arrowV)) + 0.5;
          line(ctx, xs + 3, ya, xe - 3, ya);
          ctx.fillStyle = '#222';
          arrowHead(ctx, xs + 10, ya, xs + 0.5, ya);
          arrowHead(ctx, xe - 10, ya, xe - 0.5, ya);
          ctx.fillStyle = INK;
          drawRich(ctx, [{ s: `${t0} to ${t1} ms` }], X(m.textAt[0]), Y(m.textAt[1]), 12, 'center');
        }

        // total count callout
        ctx.fillStyle = INK;
        drawRich(ctx, [{ s: String(p.total) }], X(m.countAt[0]), Y(m.countAt[1]), 12, 'center');
        const ax = X(m.arrowFrom[0]), ay = Y(m.arrowFrom[1]);
        const bx = X(m.arrowToT), by = Yn(p.total) + 2;
        ctx.strokeStyle = '#333';
        line(ctx, ax, ay, bx - (bx - ax) * 0.1, by - (by - ay) * 0.1);
        ctx.fillStyle = '#222';
        arrowHead(ctx, ax, ay, bx, by, 7, 2.6);

        // panel tag
        ctx.fillStyle = INK;
        const tx = X(m.tagT), ty = Y(14.05);
        const tw = drawRich(ctx, [{ s: `(${p.letter})` }], tx, ty, 12, 'left');
        drawRich(ctx, [{ s: 'P', it: true }, { s: `=${p.power} W` }], tx + tw + 8.5, ty, 12, 'left');

        // axis titles
        const midY = (ca.top + ca.bottom) / 2;
        drawRotated(ctx, AMP_TITLE, p.titleX[0] - cl, midY, 12.5);
        drawRotated(ctx, COUNT_TITLE, p.titleX[1] - cl, midY, 12.5);
        drawRich(ctx, TIME_TITLE, (ca.left + ca.right) / 2, p.titleY - ct, 12.5, 'center');
        ctx.restore();
      },
    };

    const chart = new Chart(canvas, {
      type: 'scatter',
      data: {
        datasets: [
          {
            data: toPoints(p.cumul),
            yAxisID: 'y1',
            showLine: true,
            borderColor: CURVE,
            borderWidth: 1.2,
            pointRadius: 0,
            fill: false,
            tension: 0,
            order: 0,
          },
          {
            data: toPoints(p.scatter),
            yAxisID: 'y',
            pointStyle: 'circle',
            pointRadius: 2.4,
            pointBorderWidth: 0.9,
            borderColor: DOT,
            pointBorderColor: DOT,
            backgroundColor: 'rgba(0,0,0,0)',
            pointBackgroundColor: 'rgba(0,0,0,0)',
            clip: false,
            order: 1,
          },
        ],
      } as any,
      options: {
        animation: false,
        responsive: false,
        maintainAspectRatio: false,
        devicePixelRatio: 1,
        events: [],
        layout: { padding: { top: topPad, left: 0, right: 0, bottom: 0 } },
        plugins: { legend: { display: false }, tooltip: { enabled: false } },
        scales: {
          x: {
            type: 'linear',
            min: 0,
            max: TIME_MAX,
            afterBuildTicks: (s: any) => { s.ticks = TIME_TICKS.map((v) => ({ value: v })); },
            afterFit: (s: any) => { s.height = bottomH; },
            grid: gridCfg,
            border: borderCfg,
            ticks: { font: tickFont, color: INK, padding: 4, maxRotation: 0, autoSkip: false, callback: label },
          },
          y: {
            type: 'linear',
            position: 'left',
            min: 0,
            max: AMP_MAX,
            afterBuildTicks: (s: any) => { s.ticks = AMP_TICKS.map((v) => ({ value: v })); },
            afterFit: (s: any) => { s.width = leftW; },
            grid: gridCfg,
            border: borderCfg,
            ticks: { font: tickFont, color: INK, padding: 3, autoSkip: false, callback: label },
          },
          y1: {
            type: 'linear',
            position: 'right',
            min: 0,
            max: p.countMax,
            afterBuildTicks: (s: any) => { s.ticks = p.countTicks.map((v) => ({ value: v })); },
            afterFit: (s: any) => { s.width = rightW; },
            grid: gridCfg,
            border: borderCfg,
            ticks: { font: tickFont, color: INK, padding: 3, autoSkip: false, callback: label },
          },
        },
      } as any,
      plugins: [decor],
    });
    return () => chart.destroy();
  }, []);

  return (
    <canvas
      ref={ref}
      width={w}
      height={h}
      style={{ position: 'absolute', left: cl, top: ct, width: w, height: h }}
    />
  );
}

export default function App() {
  return (
    <div
      style={{
        position: 'fixed',
        left: 0,
        top: 0,
        width: 507,
        height: 757,
        overflow: 'hidden',
        background: '#fff',
      }}
    >
      {PANELS.map((p) => (
        <Panel key={p.letter} p={p} />
      ))}
    </div>
  );
}
